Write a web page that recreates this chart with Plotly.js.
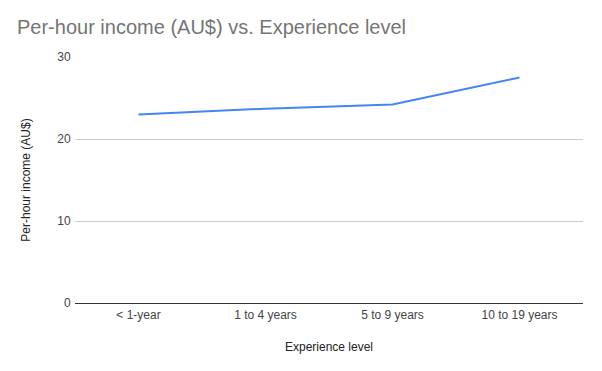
<!DOCTYPE html>
<html>
<head>
<meta charset="utf-8">
<script src="https://cdn.plot.ly/plotly-3.0.1.min.js"></script>
<style>html,body{margin:0;padding:0;background:#fff;}#chart{width:602px;height:371px;}</style>
</head>
<body>
<div id="chart"></div>
<script>
const categories = ["< 1-year", "1 to 4 years", "5 to 9 years", "10 to 19 years"];
const income = [23.0, 23.7, 24.2, 27.5];
const yTicks = [0, 10, 20, 30];

const FONT = "Liberation Sans";

const trace = {
  type: "scatter",
  mode: "lines",
  x: categories,
  y: income,
  line: {color: "#4285F4", width: 2},
  hoverinfo: "x+y"
};

const layout = {
  width: 602,
  height: 371,
  margin: {l: 75, r: 19, t: 57, b: 68},
  paper_bgcolor: "#ffffff",
  plot_bgcolor: "#ffffff",
  font: {family: FONT, color: "#444444", size: 12},
  showlegend: false,
  title: {
    text: "Per-hour income (AU$) vs. Experience level",
    font: {size: 20, color: "#757575", family: FONT},
    x: 17 / 602, xanchor: "left", xref: "container",
    y: 1 - 27 / 371, yanchor: "middle", yref: "container"
  },
  xaxis: {
    type: "category",
    range: [-0.5, categories.length - 0.5],
    title: {text: "Experience level", font: {size: 12, color: "#222222", family: FONT}, standoff: 21},
    tickfont: {size: 12, color: "#444444", family: FONT},
    showgrid: false,
    zeroline: false,
    showline: false,
    ticks: "outside",
    ticklen: 1,
    tickcolor: "rgba(0,0,0,0)",
    fixedrange: true
  },
  yaxis: {
    range: [0, 30],
    tickvals: yTicks,
    ticktext: yTicks.map(String),
    tickfont: {size: 12, color: "#444444", family: FONT},
    title: {text: "Per-hour income (AU$)", font: {size: 12, color: "#222222", family: FONT}, standoff: 24},
    showgrid: true,
    gridcolor: "#cccccc",
    gridwidth: 1,
    zeroline: true,
    zerolinecolor: "#333333",
    zerolinewidth: 1,
    ticks: "outside",
    ticklen: 1,
    tickcolor: "rgba(0,0,0,0)",
    showline: false,
    fixedrange: true
  }
};

Plotly.newPlot("chart", [trace], layout, {displayModeBar: false, staticPlot: true});
</script>
</body>
</html>
